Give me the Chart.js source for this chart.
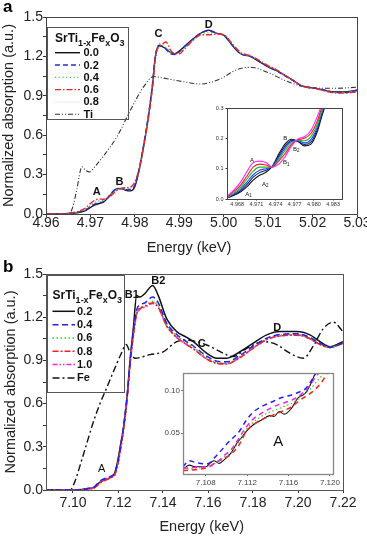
<!DOCTYPE html>
<html>
<head>
<meta charset="utf-8">
<script src="https://cdn.jsdelivr.net/npm/chart.js@4.4.0/dist/chart.umd.min.js"></script>
<style>
  html, body { margin: 0; padding: 0; background: #fff; overflow: hidden; width: 367px; height: 537px; }
  canvas { position: absolute; }
</style>
</head>
<body>
<canvas id="chartA" width="380" height="260" style="left:0;top:0"></canvas>
<canvas id="insetA" width="145" height="112" style="left:205px;top:100px"></canvas>
<canvas id="chartB" width="380" height="277" style="left:0;top:260px"></canvas>
<canvas id="insetB" width="195" height="128" style="left:150px;top:362px"></canvas>
<script>
// ---- panel a: Ti K-edge ----
const energyA = [4.960, 4.963, 4.965, 4.967, 4.968, 4.969, 4.970, 4.971, 4.972, 4.973,
  4.974, 4.975, 4.976, 4.977, 4.978, 4.979, 4.980, 4.981, 4.982, 4.983,
  4.984, 4.9845, 4.985, 4.9855, 4.987, 4.988, 4.989, 4.990, 4.991, 4.993,
  4.995, 4.9966, 4.9985, 5.000, 5.0023, 5.0038, 5.006, 5.008, 5.010, 5.012,
  5.0136, 5.0155, 5.0173, 5.019, 5.0211, 5.023, 5.025, 5.027, 5.030];
const x00A = [0, 0, 0.004, 0.01, 0.016, 0.028, 0.05, 0.07, 0.08, 0.092,
  0.125, 0.165, 0.193, 0.195, 0.18, 0.176, 0.21, 0.34, 0.52, 0.73,
  0.99, 1.17, 1.26, 1.28, 1.26, 1.23, 1.22, 1.24, 1.27, 1.33,
  1.38, 1.40, 1.375, 1.362, 1.27, 1.22, 1.20, 1.16, 1.12, 1.09,
  1.06, 1.02, 0.98, 0.965, 0.955, 0.94, 0.93, 0.93, 0.942];
const x02A = [0, 0, 0.004, 0.012, 0.02, 0.032, 0.055, 0.075, 0.085, 0.095,
  0.13, 0.17, 0.193, 0.192, 0.185, 0.187, 0.22, 0.345, 0.53, 0.74,
  1.0, 1.17, 1.26, 1.285, 1.255, 1.22, 1.215, 1.235, 1.27, 1.33,
  1.38, 1.395, 1.375, 1.36, 1.27, 1.22, 1.20, 1.165, 1.12, 1.09,
  1.055, 1.02, 0.98, 0.965, 0.955, 0.94, 0.925, 0.925, 0.94];
const x04A = [0, 0, 0.005, 0.014, 0.024, 0.038, 0.065, 0.09, 0.1, 0.105,
  0.13, 0.16, 0.185, 0.193, 0.192, 0.2, 0.235, 0.35, 0.53, 0.74,
  1.0, 1.17, 1.27, 1.3, 1.27, 1.23, 1.22, 1.23, 1.26, 1.32,
  1.37, 1.38, 1.375, 1.36, 1.28, 1.22, 1.2, 1.165, 1.125, 1.09,
  1.055, 1.02, 0.98, 0.965, 0.955, 0.94, 0.925, 0.925, 0.938];
const x06A = [0, 0, 0.006, 0.018, 0.03, 0.048, 0.08, 0.105, 0.115, 0.112,
  0.125, 0.15, 0.18, 0.195, 0.2, 0.205, 0.245, 0.35, 0.52, 0.72,
  0.97, 1.15, 1.25, 1.27, 1.31, 1.25, 1.22, 1.22, 1.25, 1.32,
  1.365, 1.365, 1.37, 1.365, 1.28, 1.23, 1.205, 1.17, 1.13, 1.095,
  1.06, 1.02, 0.98, 0.962, 0.952, 0.935, 0.922, 0.92, 0.93];
const x08A = [0, 0, 0.005, 0.013, 0.022, 0.035, 0.06, 0.082, 0.092, 0.1,
  0.128, 0.163, 0.19, 0.194, 0.188, 0.193, 0.228, 0.345, 0.53, 0.74,
  1.0, 1.17, 1.265, 1.29, 1.265, 1.225, 1.215, 1.23, 1.26, 1.325,
  1.375, 1.39, 1.375, 1.36, 1.275, 1.22, 1.2, 1.165, 1.122, 1.09,
  1.055, 1.02, 0.98, 0.965, 0.955, 0.94, 0.925, 0.925, 0.94];
const energyTi = [4.960, 4.964, 4.9654, 4.966, 4.9669, 4.9681, 4.9690, 4.9699, 4.971, 4.9729,
  4.976, 4.979, 4.982, 4.9842, 4.9872, 4.991, 4.9948, 4.9993, 5.003, 5.006,
  5.0098, 5.0136, 5.0173, 5.0211, 5.025, 5.030];
const tiRef = [0, 0, 0.01, 0.05, 0.18, 0.36, 0.33, 0.32, 0.36, 0.44,
  0.59, 0.79, 0.97, 1.046, 1.03, 1.007, 0.99, 1.03, 1.10, 1.117,
  1.08, 1.02, 0.975, 0.957, 0.957, 0.965];
const xTicksA = [4.96, 4.97, 4.98, 4.99, 5.00, 5.01, 5.02, 5.03];
const yTicksMain = [0, 0.3, 0.6, 0.9, 1.2, 1.5];

// inset of panel a (pre-edge)
const energyInsetA = [4.9665, 4.9675, 4.9685, 4.9695, 4.9705, 4.9715, 4.9725, 4.9735, 4.9745, 4.9755,
  4.9765, 4.9775, 4.9785, 4.9795, 4.9805, 4.9812, 4.9818];
const insMagenta = [0.01, 0.03, 0.055, 0.09, 0.12, 0.125, 0.12, 0.105, 0.115, 0.14, 0.175, 0.198, 0.205, 0.225, 0.27, 0.31, 0.35];
const insRed = [0.008, 0.025, 0.045, 0.075, 0.105, 0.115, 0.112, 0.105, 0.125, 0.15, 0.18, 0.195, 0.2, 0.215, 0.255, 0.3, 0.34];
const insGreen = [0.006, 0.02, 0.038, 0.065, 0.092, 0.105, 0.105, 0.106, 0.13, 0.16, 0.185, 0.193, 0.192, 0.205, 0.245, 0.29, 0.33];
const insBlue = [0.005, 0.017, 0.032, 0.055, 0.08, 0.095, 0.1, 0.107, 0.137, 0.168, 0.19, 0.192, 0.185, 0.195, 0.235, 0.28, 0.32];
const insNavy = [0.005, 0.014, 0.027, 0.047, 0.072, 0.087, 0.095, 0.107, 0.142, 0.175, 0.193, 0.19, 0.18, 0.187, 0.228, 0.275, 0.315];
const insBlack = [0.004, 0.012, 0.023, 0.04, 0.062, 0.078, 0.088, 0.108, 0.148, 0.182, 0.197, 0.19, 0.175, 0.18, 0.22, 0.27, 0.31];
const xTicksInsetA = [4.968, 4.971, 4.974, 4.977, 4.980, 4.983];
const yTicksInsetA = [0, 0.1, 0.2, 0.3];

// ---- panel b: Fe K-edge ----
const energyB = [7.088, 7.095, 7.100, 7.104, 7.1076, 7.1095, 7.1112, 7.113, 7.115, 7.1172,
  7.1186, 7.1201, 7.1212, 7.1224, 7.1241, 7.1253, 7.1268, 7.1283, 7.1298, 7.132,
  7.1354, 7.1379, 7.1416, 7.1461, 7.1505, 7.1535, 7.1594, 7.1639, 7.1683, 7.1742,
  7.1801, 7.1861, 7.192, 7.1994, 7.2053, 7.2098, 7.2142, 7.22];
const x02B = [0, 0, 0, 0.003, 0.012, 0.018, 0.045, 0.063, 0.075, 0.092,
  0.12, 0.22, 0.32, 0.43, 0.66, 0.89, 1.12, 1.35, 1.34, 1.365,
  1.42, 1.35, 1.19, 1.10, 1.06, 1.03, 0.95, 0.915, 0.915, 0.96,
  1.02, 1.077, 1.10, 1.10, 1.077, 1.03, 0.995, 1.03];
const x04B = [0, 0, 0, 0.003, 0.014, 0.022, 0.05, 0.072, 0.085, 0.098,
  0.12, 0.21, 0.31, 0.43, 0.66, 0.88, 1.1, 1.25, 1.285, 1.30,
  1.34, 1.30, 1.16, 1.08, 1.03, 1.0, 0.93, 0.895, 0.89, 0.935,
  1.0, 1.055, 1.08, 1.085, 1.06, 1.02, 0.99, 1.02];
const x06B = [0, 0, 0, 0.002, 0.01, 0.016, 0.04, 0.062, 0.077, 0.09,
  0.115, 0.2, 0.3, 0.42, 0.65, 0.87, 1.08, 1.23, 1.265, 1.28,
  1.31, 1.28, 1.15, 1.07, 1.02, 0.99, 0.92, 0.885, 0.88, 0.925,
  0.99, 1.05, 1.075, 1.08, 1.055, 1.015, 0.99, 1.02];
const x08B = [0, 0, 0, 0.002, 0.008, 0.015, 0.035, 0.058, 0.072, 0.087,
  0.105, 0.19, 0.29, 0.41, 0.64, 0.86, 1.07, 1.22, 1.26, 1.275,
  1.30, 1.27, 1.14, 1.06, 1.01, 0.98, 0.91, 0.88, 0.875, 0.92,
  0.985, 1.045, 1.07, 1.075, 1.05, 1.01, 0.99, 1.02];
const x10B = [0, 0, 0, 0.002, 0.01, 0.017, 0.043, 0.067, 0.08, 0.092,
  0.11, 0.19, 0.29, 0.41, 0.64, 0.86, 1.07, 1.22, 1.255, 1.27,
  1.295, 1.265, 1.14, 1.06, 1.01, 0.98, 0.91, 0.88, 0.878, 0.92,
  0.985, 1.045, 1.07, 1.078, 1.05, 1.01, 0.99, 1.02];
const energyFe = [7.088, 7.0987, 7.1001, 7.1046, 7.109, 7.112, 7.115, 7.1179, 7.1215, 7.1236,
  7.1253, 7.1276, 7.1342, 7.1401, 7.1461, 7.1505, 7.1594, 7.1668, 7.1712, 7.1772,
  7.1846, 7.1905, 7.1964, 7.2024, 7.2068, 7.2112, 7.2157, 7.22];
const feRef = [0, 0, 0.03, 0.245, 0.47, 0.6, 0.71, 0.82, 0.95, 1.01,
  0.96, 0.915, 0.94, 0.96, 1.03, 1.04, 1.007, 0.95, 0.926, 0.984,
  1.03, 1.01, 0.95, 0.915, 1.0, 1.12, 1.165, 1.10];
const xTicksB = [7.10, 7.12, 7.14, 7.16, 7.18, 7.20, 7.22];

// inset of panel b (pre-edge A)
const energyInsetB = [7.1058, 7.1064, 7.107, 7.108, 7.1085, 7.1088, 7.1093, 7.1098, 7.1104, 7.1111,
  7.1114, 7.1119, 7.1126, 7.1134, 7.1142, 7.1146, 7.1151, 7.1156, 7.1163, 7.1169,
  7.1176, 7.1181, 7.1186, 7.1192, 7.1198];
const inbBlack = [0.0075, 0.0125, 0.0105, 0.0105, 0.0157, 0.0176, 0.0145, 0.019, 0.026, 0.040,
  0.044, 0.052, 0.060, 0.0657, 0.0708, 0.0697, 0.0756, 0.0725, 0.0796, 0.0914,
  0.097, 0.107, 0.121, 0.135, 0.15];
const inbBlue = [0.0105, 0.0176, 0.0157, 0.0138, 0.016, 0.0205, 0.027, 0.034, 0.042, 0.05,
  0.055, 0.065, 0.075, 0.0815, 0.086, 0.088, 0.091, 0.093, 0.095, 0.098,
  0.102, 0.11, 0.12, 0.135, 0.15];
const inbGreen = [0.008, 0.008, 0.009, 0.01, 0.012, 0.014, 0.018, 0.022, 0.027, 0.038,
  0.044, 0.054, 0.063, 0.07, 0.075, 0.077, 0.079, 0.082, 0.085, 0.09,
  0.097, 0.102, 0.109, 0.118, 0.128];
const inbRed = [0.006, 0.0066, 0.007, 0.009, 0.0115, 0.014, 0.0175, 0.0205, 0.025, 0.034,
  0.04, 0.052, 0.06, 0.066, 0.07, 0.072, 0.0745, 0.077, 0.081, 0.087,
  0.093, 0.097, 0.102, 0.11, 0.122];
const inbMagenta = [0.009, 0.009, 0.01, 0.0105, 0.012, 0.0145, 0.018, 0.024, 0.03, 0.042,
  0.048, 0.057, 0.067, 0.0736, 0.079, 0.0815, 0.084, 0.086, 0.089, 0.093,
  0.1, 0.107, 0.116, 0.125, 0.135];
const xTicksInsetB = [7.108, 7.112, 7.116, 7.120];
const yTicksInsetB = [0.05, 0.10];

const FONT = "'Liberation Sans', Arial, Helvetica, sans-serif";

function series(label, xs, ys, color, dash, width) {
  return {
    label: label,
    data: xs.map((e, i) => ({ x: e, y: ys[i] })),
    borderColor: color,
    borderDash: dash,
    borderWidth: width,
    pointRadius: 0,
    fill: false,
    cubicInterpolationMode: "monotone",
  };
}

function axis(cfg) {
  return {
    type: "linear",
    min: cfg.min,
    max: cfg.max,
    afterBuildTicks: (s) => {
      const out = [];
      cfg.ticks.forEach((v, i) => {
        out.push({ value: v });
        if (cfg.minor && i < cfg.ticks.length - 1) out.push({ value: (v + cfg.ticks[i + 1]) / 2 });
      });
      s.ticks = out;
    },
    afterFit: (s) => {
      if (cfg.width !== undefined) s.width = cfg.width;
      if (cfg.height !== undefined) s.height = cfg.height;
    },
    grid: { drawOnChartArea: false, drawTicks: true, tickLength: cfg.tickLen, color: cfg.tickColor || "#333" },
    border: { display: false },
    ticks: {
      autoSkip: false,
      maxRotation: 0,
      minRotation: 0,
      padding: cfg.pad,
      color: cfg.color || "#222",
      font: { family: FONT, size: cfg.size, lineHeight: 1 },
      callback: (v) => (cfg.ticks.some((t) => Math.abs(t - v) < 1e-9) ? v.toFixed(cfg.dec) : ""),
    },
  };
}

// text with optional subscript, centred on (x, y)
function subText(ctx, t, sub, x, y, font, subFont, align) {
  ctx.font = font;
  const w1 = ctx.measureText(t).width;
  ctx.font = subFont;
  const w2 = sub ? ctx.measureText(sub).width : 0;
  let x0 = align === "left" ? x : x - (w1 + w2) / 2;
  ctx.font = font;
  ctx.textAlign = "left";
  ctx.fillText(t, x0, y);
  if (sub) {
    ctx.font = subFont;
    ctx.fillText(sub, x0 + w1, y + parseFloat(subFont.match(/([\d.]+)px/)[1]) * 0.4);
  }
}

function drawLegend(ctx, L, datasets) {
  ctx.strokeStyle = "#555";
  ctx.lineWidth = 1;
  ctx.setLineDash([]);
  ctx.strokeRect(L.x + 0.5, L.y + 0.5, L.w, L.h);
  ctx.fillStyle = "#111";
  ctx.textBaseline = "alphabetic";
  let x = L.titleX;
  [["SrTi", 0], ["1-x", 1], ["Fe", 0], ["x", 1], ["O", 0], ["3", 1]].forEach(([t, s]) => {
    ctx.font = s ? "bold 9px " + FONT : "bold 12px " + FONT;
    ctx.textAlign = "left";
    ctx.fillText(t, x, s ? L.titleY + 3.5 : L.titleY);
    x += ctx.measureText(t).width;
  });
  L.items.forEach((lab, i) => {
    const ds = datasets.find((d) => d.label === lab);
    const y = L.rowY + i * L.rowStep;
    ctx.save();
    ctx.strokeStyle = ds.borderColor;
    ctx.lineWidth = ds.borderWidth;
    ctx.setLineDash(ds.borderDash || []);
    ctx.beginPath();
    ctx.moveTo(L.lineX0, y);
    ctx.lineTo(L.lineX1, y);
    ctx.stroke();
    ctx.restore();
    ctx.font = "bold 11px " + FONT;
    ctx.fillStyle = "#111";
    ctx.textAlign = "left";
    ctx.textBaseline = "middle";
    ctx.fillText(lab, L.textX, y + 0.5);
  });
}

const decor = {
  id: "decor",
  afterDatasetsDraw(chart, args, o) {
    const { ctx, chartArea: a } = chart;
    const sx = chart.scales.x, sy = chart.scales.y;
    ctx.save();
    ctx.strokeStyle = o.frameColor;
    ctx.lineWidth = o.frameWidth;
    ctx.setLineDash([]);
    ctx.strokeRect(Math.round(a.left) + 0.5, Math.round(a.top) + 0.5, Math.round(a.right - a.left), Math.round(a.bottom - a.top));
    ctx.fillStyle = "#111";
    ctx.textBaseline = "middle";
    (o.notes || []).forEach((n) => {
      subText(ctx, n.t, n.sub, sx.getPixelForValue(n.x), sy.getPixelForValue(n.y), n.font, n.subFont || n.font);
    });
    (o.titles || []).forEach((t) => {
      ctx.save();
      ctx.translate(t.x, t.y);
      ctx.rotate(t.rot || 0);
      ctx.font = t.font;
      ctx.fillStyle = "#222";
      ctx.textAlign = "center";
      ctx.textBaseline = "middle";
      ctx.fillText(t.text, 0, 0);
      ctx.restore();
    });
    if (o.legend) drawLegend(ctx, o.legend, chart.data.datasets);
    if (o.panel) {
      ctx.font = "bold 17px " + FONT;
      ctx.fillStyle = "#000";
      ctx.textAlign = "left";
      ctx.textBaseline = "alphabetic";
      ctx.fillText(o.panel.t, o.panel.x, o.panel.y);
    }
    ctx.restore();
  },
};

function makeChart(id, datasets, padding, scales, decorOpts) {
  return new Chart(document.getElementById(id), {
    type: "line",
    data: { datasets: datasets },
    options: {
      responsive: false,
      animation: false,
      layout: { padding: padding },
      plugins: { legend: { display: false }, tooltip: { enabled: false }, decor: decorOpts },
      scales: scales,
    },
    plugins: [decor],
  });
}

const titleFont = "14.5px " + FONT;
const noteFont = "bold 11px " + FONT;

// panel a
makeChart(
  "chartA",
  [
    series("0.6", energyA, x06A, "#e8262b", [6, 2, 1.5, 2], 1.4),
    series("0.2", energyA, x02A, "#2b2bdc", [5, 3], 1.4),
    series("0.4", energyA, x04A, "#3ccf3c", [1.2, 2.5], 1.2),
    series("0.8", energyA, x08A, "rgba(220,190,220,0.5)", [], 0.8),
    series("0.0", energyA, x00A, "#111", [], 1.4),
    series("Ti", energyTi, tiRef, "#333", [5, 2, 1, 2, 1, 2], 1.1),
  ],
  { left: 0, top: 17, right: 23, bottom: 5 },
  {
    x: axis({ min: 4.96, max: 5.03, ticks: xTicksA, dec: 2, height: 41, tickLen: 3, pad: -1, size: 14 }),
    y: axis({ min: 0, max: 1.5, ticks: yTicksMain, minor: true, dec: 1, width: 46, tickLen: 3, pad: 0, size: 14 }),
  },
  {
    frameColor: "#444",
    frameWidth: 1,
    notes: [
      { t: "A", x: 4.97144, y: 0.17, font: noteFont },
      { t: "B", x: 4.97654, y: 0.246, font: noteFont },
      { t: "C", x: 4.98534, y: 1.371, font: noteFont },
      { t: "D", x: 4.99662, y: 1.439, font: noteFont },
    ],
    titles: [
      { text: "Energy (keV)", x: 189, y: 248, font: titleFont },
      { text: "Normalized absorption (a.u.)", x: 9, y: 115.5, rot: -Math.PI / 2, font: titleFont },
    ],
    legend: { x: 47, y: 27, w: 81, h: 92, titleX: 55, titleY: 42, rowY: 52.7, rowStep: 12.3, lineX0: 55, lineX1: 80, textX: 83.5,
      items: ["0.0", "0.2", "0.4", "0.6", "0.8", "Ti"] },
    panel: { t: "a", x: 3, y: 12 },
  }
);

// inset a
makeChart(
  "insetA",
  [
    series("magenta", energyInsetA, insMagenta, "#ff22ff", [], 1.1),
    series("red", energyInsetA, insRed, "#ee2020", [], 1.1),
    series("green", energyInsetA, insGreen, "#22bb22", [], 1.1),
    series("blue", energyInsetA, insBlue, "#2244ff", [], 1.1),
    series("navy", energyInsetA, insNavy, "#102070", [], 1.1),
    series("black", energyInsetA, insBlack, "#111", [], 1.1),
  ],
  { left: 0, top: 8, right: 8, bottom: 0 },
  {
    x: axis({ min: 4.9664, max: 4.9844, ticks: xTicksInsetA, dec: 3, height: 13, tickLen: 1.5, pad: 1.5, size: 5.5, color: "#333" }),
    y: axis({ min: 0, max: 0.3, ticks: yTicksInsetA, dec: 1, width: 22, tickLen: 1.5, pad: 2, size: 5.5, color: "#333" }),
  },
  {
    frameColor: "#444",
    frameWidth: 1,
    notes: [
      { t: "A", x: 4.9703, y: 0.129, font: "6px " + FONT },
      { t: "A", sub: "1", x: 4.96977, y: 0.0165, font: "6px " + FONT, subFont: "4.5px " + FONT },
      { t: "A", sub: "2", x: 4.97238, y: 0.0495, font: "6px " + FONT, subFont: "4.5px " + FONT },
      { t: "B", x: 4.9755, y: 0.2, font: "6px " + FONT },
      { t: "B", sub: "1", x: 4.97566, y: 0.12, font: "6px " + FONT, subFont: "4.5px " + FONT },
      { t: "B", sub: "2", x: 4.97722, y: 0.165, font: "6px " + FONT, subFont: "4.5px " + FONT },
    ],
  }
);

// panel b
makeChart(
  "chartB",
  [
    series("0.4", energyB, x04B, "#2222ee", [6, 3.5], 1.5),
    series("0.8", energyB, x08B, "#ee2222", [6, 2, 2, 2], 1.5),
    series("0.6", energyB, x06B, "#33cc33", [1.5, 2.5], 1.5),
    series("1.0", energyB, x10B, "#ee22ee", [5, 2, 1.5, 2, 1.5, 2], 1.5),
    series("0.2", energyB, x02B, "#111", [], 1.5),
    series("Fe", energyFe, feRef, "#111", [7, 3, 2, 3], 1.4),
  ],
  { left: 0, top: 14, right: 37, bottom: 2 },
  {
    x: axis({ min: 7.088, max: 7.22, ticks: xTicksB, dec: 2, height: 45, tickLen: 3, pad: 3, size: 14 }),
    y: axis({ min: 0, max: 1.5, ticks: yTicksMain, minor: true, dec: 1, width: 46, tickLen: 3, pad: 0, size: 14 }),
  },
  {
    frameColor: "#555",
    frameWidth: 1,
    notes: [
      { t: "A", x: 7.11276, y: 0.143, font: "11px " + FONT },
      { t: "B1", x: 7.1261, y: 1.353, font: noteFont },
      { t: "B2", x: 7.1379, y: 1.45, font: noteFont },
      { t: "C", x: 7.1572, y: 1.012, font: noteFont },
      { t: "D", x: 7.1908, y: 1.128, font: noteFont },
    ],
    titles: [
      { text: "Energy (keV)", x: 201.7, y: 266.7, font: titleFont },
      { text: "Normalized absorption (a.u.)", x: 11, y: 122, rot: -Math.PI / 2, font: titleFont },
    ],
    legend: { x: 47, y: 15, w: 77, h: 117, titleX: 52.5, titleY: 39, rowY: 51.3, rowStep: 13.33, lineX0: 52.5, lineX1: 75, textX: 77,
      items: ["0.2", "0.4", "0.6", "0.8", "1.0", "Fe"] },
    panel: { t: "b", x: 3, y: 11.7 },
  }
);

// inset b
makeChart(
  "insetB",
  [
    series("0.4", energyInsetB, inbBlue, "#2222ee", [5, 4], 1.5),
    series("1.0", energyInsetB, inbMagenta, "#ee22ee", [5, 4], 1.5),
    series("0.6", energyInsetB, inbGreen, "#33cc33", [1.5, 2.5], 1.2),
    series("0.8", energyInsetB, inbRed, "#ee2222", [5, 4], 1.5),
    series("0.2", energyInsetB, inbBlack, "#111", [], 1.1),
  ],
  { left: 0, top: 11, right: 12, bottom: 0 },
  {
    x: axis({ min: 7.1058, max: 7.1203, ticks: xTicksInsetB, dec: 3, height: 16, tickLen: 2, pad: 2.5, size: 8, color: "#444", tickColor: "#777" }),
    y: axis({ min: 0.002, max: 0.121, ticks: yTicksInsetB, dec: 2, width: 33, tickLen: 2, pad: 1, size: 8, color: "#444", tickColor: "#777" }),
  },
  {
    frameColor: "#888",
    frameWidth: 1.3,
    notes: [{ t: "A", x: 7.115, y: 0.04, font: "15px " + FONT }],
  }
);
</script>
</body>
</html>
